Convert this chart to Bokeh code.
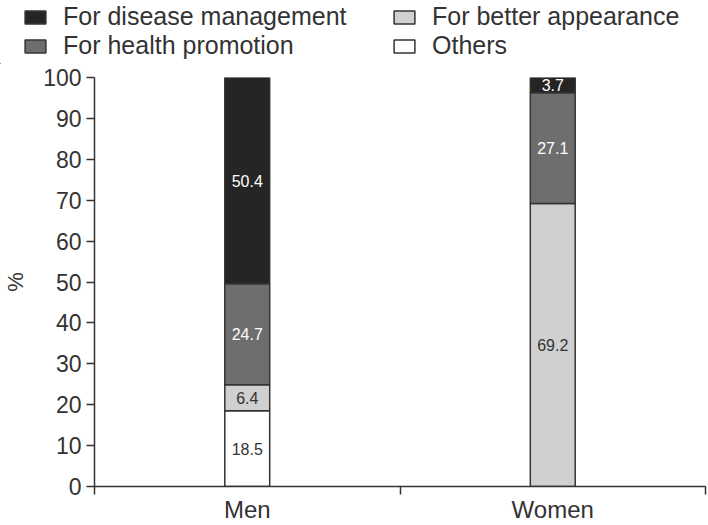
from bokeh.plotting import figure
from bokeh.layouts import column
from bokeh.models import Range1d, FixedTicker, Legend, LegendItem, ColumnDataSource, LabelSet
from bokeh.embed import file_html
from bokeh.resources import INLINE
from bokeh.core.properties import value

groups = ["Men", "Women"]
series = ["Others", "For better appearance", "For health promotion", "For disease management"]
others = [18.5, 0.0]
appearance = [6.4, 69.2]
health = [24.7, 27.1]
disease = [50.4, 3.7]
y_ticks = [0, 10, 20, 30, 40, 50, 60, 70, 80, 90, 100]

colors = ["#ffffff", "#d0d0d0", "#6e6e6e", "#252525"]
label_colors = ["#333333", "#333333", "#ffffff", "#ffffff"]
FONT = "Liberation Sans"
INK = "#333333"

p = figure(width=708, height=461, output_backend="svg", toolbar_location=None,
           x_range=Range1d(0, len(groups)), y_range=Range1d(0, 100),
           min_border_left=93, min_border_right=3, min_border_top=13, min_border_bottom=36)
p.outline_line_color = None
p.grid.visible = False
p.frame_align = False

# legend strip (its own small figure above the chart)
lf = figure(width=708, height=64, output_backend="svg", toolbar_location=None,
            x_axis_type=None, y_axis_type=None, x_range=Range1d(10, 11),
            y_range=Range1d(200, 201), min_border=0)
lf.outline_line_color = None
lf.grid.visible = False
lf.frame_align = False

xs = [i + 0.5 for i in range(len(groups))]
values = [others, appearance, health, disease]
bottom = [0.0] * len(groups)
proxies = {}
for name, vals, col, lc in zip(series, values, colors, label_colors):
    top = [b + v for b, v in zip(bottom, vals)]
    src = ColumnDataSource(dict(x=xs, bottom=bottom, top=top,
                                mid=[(b + t) / 2 for b, t in zip(bottom, top)],
                                txt=[f"{v:.1f}" if v > 0 else "" for v in vals]))
    p.vbar(x="x", bottom="bottom", top="top", width=0.147, source=src,
           fill_color=col, line_color=INK, line_width=1.5)
    p.add_layout(LabelSet(x="x", y="mid", text="txt", source=src, text_align="center",
                          text_baseline="middle", text_color=lc, text_font=value(FONT),
                          text_font_size="16px"))
    # same bars in the legend strip (outside its visible range) serve as legend swatches
    proxies[name] = lf.vbar(x="x", bottom="bottom", top="top", width=0.147, source=src,
                            fill_color=col, line_color=INK, line_width=1.5)
    bottom = top

# axes
xa = p.xaxis[0]
xa.ticker = FixedTicker(ticks=xs, minor_ticks=[float(i) for i in range(len(groups) + 1)])
xa.major_label_overrides = {x: g for x, g in zip(xs, groups)}
xa.major_tick_out = 0
xa.major_tick_in = 0
xa.minor_tick_out = 8
xa.minor_tick_in = 0
xa.minor_tick_line_color = INK
xa.minor_tick_line_width = 1.5
xa.axis_line_color = INK
xa.axis_line_width = 1.5
xa.major_label_text_font = FONT
xa.major_label_text_font_size = "24px"
xa.major_label_text_color = INK
xa.major_label_standoff = 1

ya = p.yaxis[0]
ya.ticker = FixedTicker(ticks=y_ticks, minor_ticks=[])
ya.major_tick_out = 8
ya.major_tick_in = 0
ya.major_tick_line_color = INK
ya.major_tick_line_width = 1.5
ya.axis_line_color = INK
ya.axis_line_width = 1.5
ya.major_label_text_font = FONT
ya.major_label_text_font_size = "23px"
ya.major_label_text_color = INK
ya.major_label_standoff = 5
ya.axis_label = "%"
ya.axis_label_text_font = FONT
ya.axis_label_text_font_style = "normal"
ya.axis_label_text_font_size = "22px"
ya.axis_label_text_color = INK
ya.axis_label_standoff = 12

columns = [(["For disease management", "For health promotion"], 22),
           (["For better appearance", "Others"], 391)]
for names, x0 in columns:
    lg = Legend(items=[LegendItem(label=n, renderers=[proxies[n]]) for n in names],
                location=(x0, 4), orientation="vertical",
                label_text_font=FONT, label_text_font_size="25px", label_text_color=INK,
                glyph_width=26, glyph_height=16, label_standoff=15,
                spacing=0, padding=0, margin=0, border_line_color=None,
                background_fill_alpha=0)
    lf.add_layout(lg, "center")

open("out.html", "w").write(file_html(column(lf, p, spacing=0), INLINE))
